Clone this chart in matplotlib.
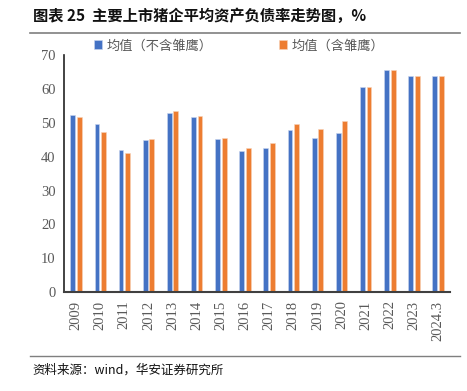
import numpy as np
import matplotlib.pyplot as plt
from matplotlib.lines import Line2D

plt.rcParams['font.family'] = ['Noto Sans CJK SC', 'DejaVu Sans']

years = ["2009", "2010", "2011", "2012", "2013", "2014", "2015", "2016",
         "2017", "2018", "2019", "2020", "2021", "2022", "2023", "2024.3"]
avg_excl = [52.3, 49.8, 42.1, 44.8, 53.0, 51.6, 45.1, 41.8,
            42.6, 47.8, 45.4, 46.9, 60.6, 65.6, 63.8, 63.8]
avg_incl = [51.6, 47.2, 41.0, 45.2, 53.6, 52.1, 45.5, 42.7,
            44.0, 49.8, 48.1, 50.5, 60.6, 65.6, 63.8, 63.8]

blue = "#4472C4"
orange = "#ED7D31"
grey = "#595959"

fig = plt.figure(figsize=(4.67, 3.91), dpi=100)
ax = fig.add_axes([0.137, 0.253, 0.827, 0.606])

x = np.arange(len(years))
w = 0.2
ax.bar(x - 0.135, avg_excl, w, color=blue, edgecolor="#C9D5EE", linewidth=0.4,
       label="均值（不含雏鹰）")
ax.bar(x + 0.135, avg_incl, w, color=orange, edgecolor="#F8D3BA", linewidth=0.4,
       label="均值（含雏鹰）")

ax.set_xlim(-0.5, len(years) - 0.5)
ax.set_ylim(0, 70)
ax.set_yticks(range(0, 71, 10))
ax.set_xticks(x)
ax.set_xticklabels(years, rotation=90)
for lab in ax.get_xticklabels() + ax.get_yticklabels():
    lab.set_family("Liberation Serif")
    lab.set_fontsize(10.5)
    lab.set_color(grey)
ax.tick_params(length=0, pad=6)
ax.spines["top"].set_visible(False)
ax.spines["right"].set_visible(False)
ax.spines["left"].set_color("#222222")
ax.spines["left"].set_linewidth(1.2)
ax.spines["bottom"].set_color("#404040")
ax.spines["bottom"].set_linewidth(1.5)

leg = fig.legend(loc="upper left", bbox_to_anchor=(0.175, 0.93), ncol=2,
                 frameon=False, fontsize=9.5, handlelength=0.6, handleheight=0.6,
                 handletextpad=0.4, columnspacing=5.0)
for t in leg.get_texts():
    t.set_color(grey)

fig.text(0.07, 0.958, "图表 25  主要上市猪企平均资产负债率走势图，%",
         fontsize=11, fontweight="bold", va="center", color="#111111")
fig.add_artist(Line2D([0.065, 0.985], [0.915, 0.915], color="#7f7f7f",
                      linewidth=1.2, transform=fig.transFigure))
fig.add_artist(Line2D([0.065, 0.985], [0.09, 0.09], color="#7f7f7f",
                      linewidth=1.0, transform=fig.transFigure))
fig.text(0.07, 0.053, "资料来源：wind，华安证券研究所", fontsize=9,
         va="center", color="#111111")

fig.savefig("out.png", dpi=100)
